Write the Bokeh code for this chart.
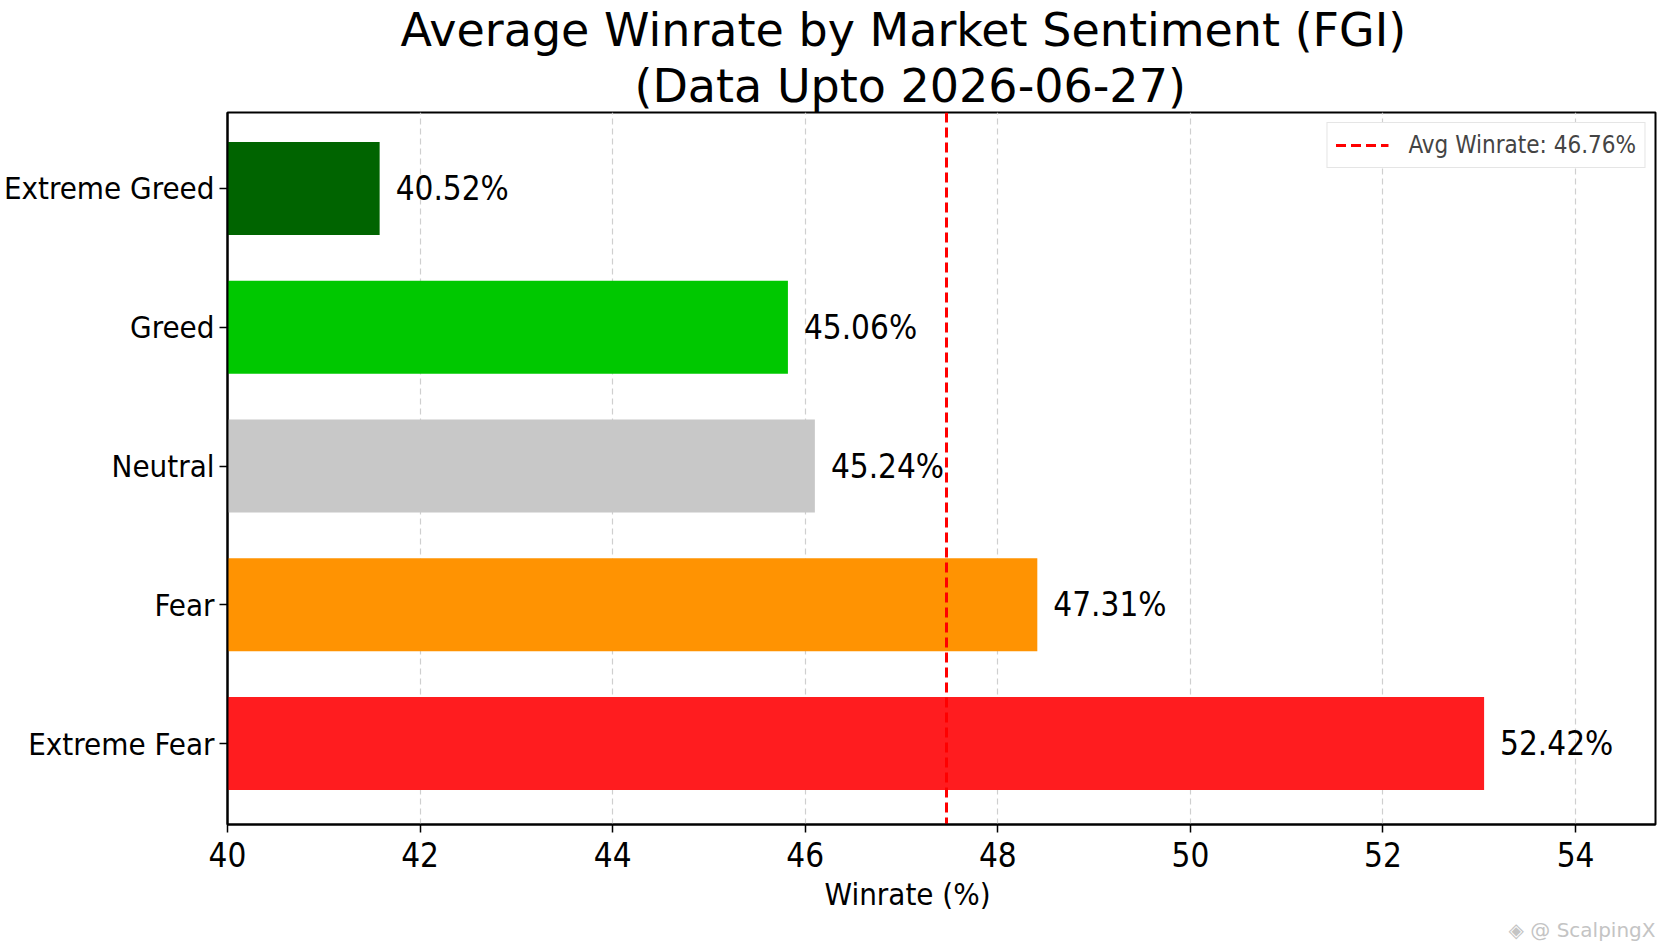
from bokeh.plotting import figure
from bokeh.models import Range1d, FixedTicker, Title, ColumnDataSource
from bokeh.core.properties import value
from bokeh.embed import file_html
from bokeh.resources import INLINE

# ---- data ----
categories = ["Extreme Fear", "Fear", "Neutral", "Greed", "Extreme Greed"]
bar_values = [53.05, 48.41, 46.10, 45.82, 41.58]          # drawn bar ends
value_labels = ["52.42%", "47.31%", "45.24%", "45.06%", "40.52%"]
bar_colors = ["#FF1C1F", "#FF9302", "#C8C8C8", "#00C800", "#006400"]
avg_line_x = 47.47
avg_label = "Avg Winrate: 46.76%"
x_ticks = [40, 42, 44, 46, 48, 50, 52, 54]
title_lines = ["Average Winrate by Market Sentiment (FGI)", "(Data Upto 2026-06-27)"]
x_label = "Winrate (%)"
watermark = "\u25c8 @ ScalpingX"

NARROW = "DejaVu Sans Condensed"
TITLE_FONT = "DejaVu Sans"

W, H = 1672, 941
p = figure(width=W, height=H, output_backend="svg", toolbar_location=None, title=None,
           x_range=Range1d(40, 54.83), y_range=Range1d(-0.583, 4.547),
           min_border_left=225, min_border_right=17, min_border_top=112, min_border_bottom=116)
p.background_fill_color = "white"
p.border_fill_color = "white"
p.outline_line_color = "black"
p.outline_line_width = 2

idx = list(range(len(categories)))
src = ColumnDataSource(dict(y=idx, right=bar_values, color=bar_colors, label=value_labels))

p.hbar(y="y", left=40, right="right", height=0.67, fill_color="color", line_color=None, source=src)

p.text(x="right", y="y", text="label", source=src, x_offset=16,
       text_baseline="middle", text_align="left", text_font=value(NARROW),
       text_font_size="33px", text_color="black")

p.vspan(x=[avg_line_x], line_color="red", line_dash="10 5", line_width=3, legend_label=avg_label)

# axes
p.xaxis.ticker = FixedTicker(ticks=x_ticks)
p.yaxis.ticker = FixedTicker(ticks=idx)
p.yaxis.major_label_overrides = {i: c for i, c in zip(idx, categories)}
for ax in (p.xaxis[0], p.yaxis[0]):
    ax.axis_line_color = "black"
    ax.axis_line_width = 2
    ax.major_tick_line_color = "black"
    ax.major_tick_line_width = 1.5
    ax.major_tick_out = 8
    ax.major_tick_in = 0
    ax.minor_tick_line_color = None
    ax.major_label_text_font = NARROW
    ax.major_label_text_color = "black"
p.xaxis.major_label_text_font_size = "33px"
p.yaxis.major_label_text_font_size = "31px"
p.xaxis.major_label_standoff = 9
p.yaxis.major_label_standoff = 5

p.xgrid.grid_line_color = "#cfcfcf"
p.xgrid.grid_line_dash = "6 4"
p.xgrid.grid_line_width = 1.2
p.ygrid.grid_line_color = None

# legend
lg = p.legend[0]
lg.location = "top_right"
lg.margin = 10
lg.padding = 8
lg.label_text_font = NARROW
lg.label_text_font_size = "24px"
lg.glyph_width = 53
lg.label_standoff = 20
lg.border_line_color = "#cccccc"
lg.border_line_width = 1.5
lg.background_fill_alpha = 1.0

# titles (line nearest the plot is added first)
p.add_layout(Title(text=title_lines[1], align="left", offset=407, standoff=0,
                   text_font=TITLE_FONT, text_font_size="46px", text_font_style="normal",
                   text_color="black"), "above")
p.add_layout(Title(text=title_lines[0], align="left", offset=173, standoff=0,
                   text_font=TITLE_FONT, text_font_size="46px", text_font_style="normal",
                   text_color="black"), "above")
# x axis label and watermark
p.add_layout(Title(text=x_label, align="left", offset=597, standoff=8,
                   text_font=NARROW, text_font_size="31px", text_font_style="normal",
                   text_color="black"), "below")
p.add_layout(Title(text=watermark, align="right", standoff=0,
                   text_font="DejaVu Sans", text_font_size="20px", text_font_style="normal",
                   text_color="#c4c4c4"), "below")

open("out.html", "w").write(file_html(p, INLINE))
